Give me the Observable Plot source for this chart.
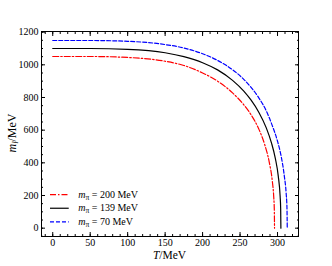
<!DOCTYPE html>
<html><head><meta charset="utf-8">
<script src="https://cdn.jsdelivr.net/npm/d3@7"></script>
<script src="https://cdn.jsdelivr.net/npm/@observablehq/plot@0.6"></script>
<style>
body{margin:0;background:#fff}
svg{font-family:"Liberation Serif","DejaVu Serif",serif}
</style>
</head><body><div id="chart"></div>
<script>
const pionMasses = [200, 139, 70];

const tRed   = [0, 50, 100, 150, 175, 200, 220, 240, 255, 265, 275, 283, 289, 293, 295, 295.7, 296];
const mRed   = [1051, 1051, 1045, 1022, 996, 950, 900, 828, 755, 692, 607, 510, 403, 290, 187, 116, 0];

const tBlack = [0, 50, 100, 150, 175, 200, 220, 240, 255, 265, 275, 285, 292, 297, 301, 303.5, 304.2, 304.5];
const mBlack = [1100, 1100, 1095, 1074, 1050, 1013, 969, 905, 839, 782, 710, 614, 521, 429, 319, 194, 120, 0];

const tBlue  = [0, 50, 100, 150, 175, 200, 220, 240, 255, 265, 275, 285, 293, 300, 305, 309, 311.5, 312.6, 313];
const mBlue  = [1149, 1149, 1144, 1124, 1103, 1068, 1027, 970, 911, 860, 798, 718, 628, 532, 437, 322, 215, 125, 0];

const xTicks = [0, 50, 100, 150, 200, 250, 300];
const yTicks = [0, 200, 400, 600, 800, 1000, 1200];

const seriesT = [tRed, tBlack, tBlue];
const seriesM = [mRed, mBlack, mBlue];
const colors = ["#ff0000", "#000000", "#0000ff"];
const dashes = ["6,2,1.5,2", null, "4,2"];

const xMinor = d3.range(-10, 330, 10);
const yMinor = d3.range(-50, 1201, 50);

const lineMarks = pionMasses.map((mpi, k) => {
  const rows = seriesT[k].map((t, i) => ({T: t, m: seriesM[k][i]}));
  return Plot.line(rows, {x: "T", y: "m", stroke: colors[k], strokeWidth: 1.2,
    strokeDasharray: dashes[k], curve: "monotone-x"});
});

const legendRows = pionMasses.map((mpi, k) => ({mpi, k}));
const legY = d => 205 - d.k * 83;

const legendMarks = [
  ...legendRows.map(d => Plot.ruleY([d], {x1: -3, x2: 22, y: legY, stroke: colors[d.k],
     strokeWidth: 1.2, strokeDasharray: dashes[d.k]})),
  Plot.text(legendRows, {x: 34, y: legY, text: d => String(d.mpi), textAnchor: "start",
     fontSize: 10, className: "legtext"})
];

const plot = Plot.plot({
  width: 332, height: 266,
  marginLeft: 41, marginRight: 34, marginTop: 31, marginBottom: 30,
  style: {fontFamily: "Liberation Serif, serif", background: "#fff"},
  x: {domain: [-15, 328]},
  y: {domain: [-51, 1204]},
  marks: [
    Plot.axisX(xMinor, {anchor: "bottom", tickSize: -2, text: null, label: null}),
    Plot.axisX(xMinor, {anchor: "top", tickSize: -2, text: null, label: null}),
    Plot.axisX(xTicks, {anchor: "bottom", tickSize: -4, text: null, label: null}),
    Plot.axisX(xTicks, {anchor: "top", tickSize: -4, text: null, label: null}),
    Plot.axisX(xTicks, {anchor: "bottom", tickSize: 0, tickPadding: 2, label: null, fontSize: 10, tickFormat: d => String(d)}),
    Plot.axisY(yMinor, {anchor: "left", tickSize: -2, text: null, label: null}),
    Plot.axisY(yMinor, {anchor: "right", tickSize: -2, text: null, label: null}),
    Plot.axisY(yTicks, {anchor: "left", tickSize: -4, text: null, label: null}),
    Plot.axisY(yTicks, {anchor: "right", tickSize: -4, text: null, label: null}),
    Plot.axisY(yTicks, {anchor: "left", tickSize: 0, tickPadding: 3, label: null, fontSize: 10, tickFormat: d => String(d)}),
    ...lineMarks,
    ...legendMarks,
    Plot.frame({stroke: "#000", strokeWidth: 1})
  ]
});

document.getElementById("chart").appendChild(plot);
const svg = d3.select(plot);

svg.selectAll(".legtext text").each(function() {
  const v = this.textContent;
  const t = d3.select(this);
  t.text(null);
  t.append("tspan").attr("font-style", "italic").text("m");
  t.append("tspan").attr("font-size", 7.5).attr("dy", 2).text("π");
  t.append("tspan").attr("dy", -2).text(" = " + v + " MeV");
});

const xl = svg.append("text").attr("x", 169.5).attr("y", 259).attr("text-anchor", "middle")
  .attr("font-size", 11.5).attr("fill", "#000");
xl.append("tspan").attr("font-style", "italic").text("T");
xl.append("tspan").text("/MeV");

const yl = svg.append("text").attr("transform", "translate(16,133) rotate(-90)")
  .attr("text-anchor", "middle").attr("font-size", 12).attr("fill", "#000");
yl.append("tspan").attr("font-style", "italic").text("m");
yl.append("tspan").attr("font-style", "italic").attr("font-size", 8.5).attr("dy", 2).text("l");
yl.append("tspan").attr("dy", -2).text("/MeV");
</script>
</body></html>
